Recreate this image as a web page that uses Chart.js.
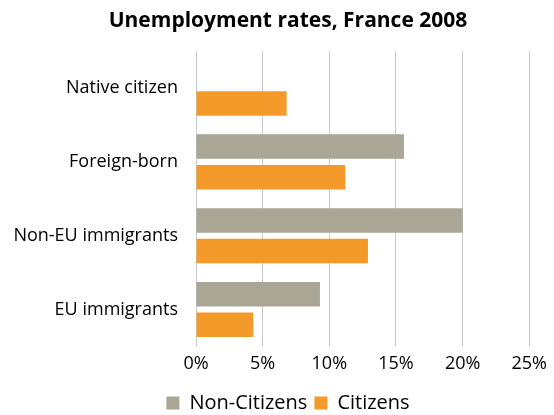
<!DOCTYPE html>
<html>
<head>
<meta charset="utf-8">
<script src="https://cdn.jsdelivr.net/npm/chart.js@4"></script>
<style>
  html, body { margin: 0; padding: 0; background: #ffffff; }
  #wrap { width: 554px; height: 415px; }
</style>
</head>
<body>
<div id="wrap"><canvas id="c" width="554" height="415"></canvas></div>
<script>
const categories = ["Native citizen", "Foreign-born", "Non-EU immigrants", "EU immigrants"];
const nonCitizens = [null, 15.6, 20.0, 9.3];
const citizens = [6.8, 11.2, 12.9, 4.3];
const xTicks = [0, 5, 10, 15, 20, 25];
const seriesNames = ["Non-Citizens", "Citizens"];
const titleText = "Unemployment rates, France 2008";

const FONT = "'Open Sans', sans-serif";

new Chart(document.getElementById('c'), {
  type: 'bar',
  data: {
    labels: categories,
    datasets: [
      { label: seriesNames[0], data: nonCitizens, backgroundColor: '#A9A696', categoryPercentage: 0.83, barPercentage: 0.8 },
      { label: seriesNames[1], data: citizens, backgroundColor: '#F39A2B', categoryPercentage: 0.83, barPercentage: 0.8 }
    ]
  },
  options: {
    indexAxis: 'y',
    responsive: false,
    animation: false,
    devicePixelRatio: 1,
    layout: { padding: { left: 10, right: -12, top: 2, bottom: -8 } },
    plugins: {
      title: {
        display: true,
        text: titleText,
        color: '#000000',
        font: { family: FONT, size: 21, weight: 'bold' },
        padding: { top: 6, bottom: 18 }
      },
      legend: {
        position: 'bottom',
        labels: {
          color: '#000000',
          font: { family: FONT, size: 20 },
          boxWidth: 13,
          boxHeight: 13,
          padding: 7
        }
      },
      tooltip: { enabled: false }
    },
    scales: {
      x: {
        min: 0,
        max: 25,
        afterBuildTicks: (axis) => { axis.ticks = xTicks.map(v => ({ value: v })); },
        afterFit: (axis) => { axis.height += 4; },
        ticks: {
          color: '#000000',
          font: { family: FONT, size: 18 },
          padding: 7,
          callback: (v) => v + '%'
        },
        grid: { color: '#C8C8C8', lineWidth: 1, drawTicks: false },
        border: { display: false }
      },
      y: {
        afterFit: (axis) => { axis.width = 186; },
        ticks: {
          color: '#000000',
          font: { family: FONT, size: 18 },
          padding: 18
        },
        grid: { display: false, drawTicks: false },
        border: { display: false }
      }
    }
  }
});
</script>
</body>
</html>
